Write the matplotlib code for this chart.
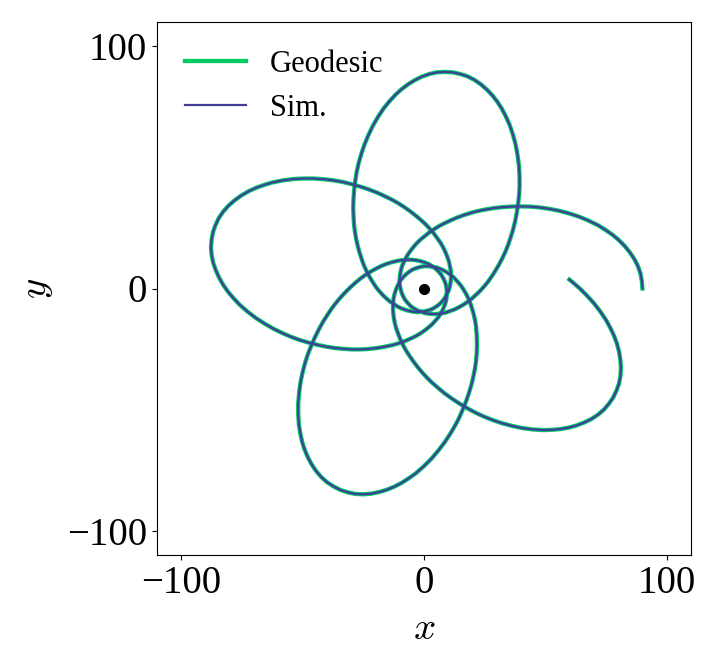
import numpy as np
import matplotlib.pyplot as plt

# orbit in polar form: angle [deg, unwrapped] and radius
phi_deg = [
    0, 2, 4, 6, 8, 10, 12, 14, 16, 18, 20, 22.5, 25, 27.5, 30, 32.5, 35, 37.5, 40, 43, 46, 49, 52, 55, 58,
    61.5, 65, 68.5, 72, 76, 80, 85, 90, 95, 100, 106, 112, 118, 125, 132, 140, 150, 160, 170, 180, 190, 200, 210, 221.25,
    232.5, 242.5, 252.5, 262.5, 272.5, 282.5, 292.5, 302.5, 310.5, 317.5, 324.5, 330.5, 336.5, 342.5, 347.5, 352.5,
    357.5, 362.5, 366.5, 370.5, 374, 377.5, 381, 384.5, 387.5, 390.5, 393.5, 396.5, 399.5, 402.5, 405, 407.5,
    410, 412.5, 415, 417.5, 420, 422.5, 424.5, 426.5, 428.5, 430.5, 432.5, 434.5, 436.5, 438.5, 440.5, 442.5,
    444.5, 446.5, 448.5, 450.5, 452.5, 454.5, 456.5, 458.5, 460.5, 462.5, 465, 467.5, 470, 472.5, 475, 477.5,
    480, 482.5, 485.5, 488.5, 491.5, 494.5, 497.5, 500.5, 504, 507.5, 511, 514.5, 518.5, 522.5, 527.5, 532.5,
    537.5, 542.5, 548.5, 554.5, 560.5, 567.5, 574.5, 582.5, 592.5, 602.5, 612.5, 622.5, 632.5, 642.5, 652.5, 663.75,
    675, 685, 695, 705, 715, 725, 735, 745, 753, 760, 767, 773, 779, 785, 790, 795,
    800, 805, 809, 813, 816.5, 820, 823.5, 827, 830, 833, 836, 839, 842, 845, 847.5, 850,
    852.5, 855, 857.5, 860, 862.5, 865, 867, 869, 871, 873, 875, 877, 879, 881, 883, 885,
    887, 889, 891, 893, 895, 897, 899, 901, 903, 905, 907.5, 910, 912.5, 915, 917.5, 920,
    922.5, 925, 928, 931, 934, 937, 940, 943, 946.5, 950, 953.5, 957, 961, 965, 970, 975,
    980, 985, 991, 997, 1003, 1010, 1017, 1025, 1035, 1045, 1055, 1065, 1075, 1085, 1095, 1106.25,
    1117.5, 1127.5, 1137.5, 1147.5, 1157.5, 1167.5, 1177.5, 1187.5, 1195.5, 1202.5, 1209.5, 1215.5, 1221.5, 1227.5, 1232.5, 1237.5,
    1242.5, 1247.5, 1251.5, 1255.5, 1259, 1262.5, 1266, 1269.5, 1272.5, 1275.5, 1278.5, 1281.5, 1284.5, 1287.5, 1290, 1292.5,
    1295, 1297.5, 1300, 1302.5, 1305, 1307.5, 1309.5, 1311.5, 1313.5, 1315.5, 1317.5, 1319.5, 1321.5, 1323.5, 1325.5, 1327.5,
    1329.5, 1331.5, 1333.5, 1335.5, 1337.5, 1339.5, 1341.5, 1343.5, 1345.5, 1347.5, 1350, 1352.5, 1355, 1357.5, 1360, 1362.5,
    1365, 1367.5, 1370.5, 1373.5, 1376.5, 1379.5, 1382.5, 1385.5, 1389, 1392.5, 1396, 1399.5, 1403.5, 1407.5, 1412.5, 1417.5,
    1422.5, 1427.5, 1433.5, 1439.5, 1445.5, 1452.5, 1459.5, 1467.5, 1477.5, 1487.5, 1497.5, 1507.5, 1517.5, 1527.5, 1537.5, 1548.75,
    1560, 1570, 1580, 1590, 1600, 1610, 1620, 1630, 1638, 1645, 1652, 1658, 1664, 1670, 1675, 1680,
    1685, 1690, 1694, 1698, 1701.5, 1705, 1708.5, 1712, 1715, 1718, 1721, 1724, 1727, 1730, 1732.5, 1735,
    1737.5, 1740, 1742.5, 1745, 1747.5, 1750, 1752, 1754, 1756, 1758, 1760, 1762, 1764, 1766, 1768, 1770,
    1772, 1774, 1776, 1778, 1780, 1782, 1784, 1786, 1788, 1790, 1792.5, 1795, 1797.5, 1800, 1802.5, 1803.5,
]
r = [
    90.0, 89.8, 89.4, 88.6, 87.5, 86.1, 84.5, 82.7, 80.7, 78.5, 76.3, 73.3, 70.3, 67.2, 64.2, 61.2, 58.3, 55.5, 52.7, 49.6, 46.7, 44.0, 41.4, 39.1, 36.9,
    34.5, 32.3, 30.3, 28.5, 26.7, 25.0, 23.1, 21.4, 20.0, 18.7, 17.3, 16.1, 15.1, 14.0, 13.2, 12.3, 11.4, 10.7, 10.2, 9.7, 9.4, 9.2, 9.1, 9.0,
    9.1, 9.2, 9.4, 9.7, 10.2, 10.7, 11.4, 12.3, 13.2, 14.0, 15.1, 16.1, 17.3, 18.7, 20.0, 21.4,
    23.1, 25.0, 26.7, 28.5, 30.3, 32.3, 34.5, 36.9, 39.1, 41.4, 44.0, 46.7, 49.6, 52.7, 55.5, 58.3,
    61.2, 64.2, 67.2, 70.3, 73.3, 76.3, 78.5, 80.7, 82.7, 84.5, 86.1, 87.5, 88.6, 89.4, 89.8, 90.0,
    89.8, 89.4, 88.6, 87.5, 86.1, 84.5, 82.7, 80.7, 78.5, 76.3, 73.3, 70.3, 67.2, 64.2, 61.2, 58.3,
    55.5, 52.7, 49.6, 46.7, 44.0, 41.4, 39.1, 36.9, 34.5, 32.3, 30.3, 28.5, 26.7, 25.0, 23.1, 21.4,
    20.0, 18.7, 17.3, 16.1, 15.1, 14.0, 13.2, 12.3, 11.4, 10.7, 10.2, 9.7, 9.4, 9.2, 9.1, 9.0,
    9.1, 9.2, 9.4, 9.7, 10.2, 10.7, 11.4, 12.3, 13.2, 14.0, 15.1, 16.1, 17.3, 18.7, 20.0, 21.4,
    23.1, 25.0, 26.7, 28.5, 30.3, 32.3, 34.5, 36.9, 39.1, 41.4, 44.0, 46.7, 49.6, 52.7, 55.5, 58.3,
    61.2, 64.2, 67.2, 70.3, 73.3, 76.3, 78.5, 80.7, 82.7, 84.5, 86.1, 87.5, 88.6, 89.4, 89.8, 90.0,
    89.8, 89.4, 88.6, 87.5, 86.1, 84.5, 82.7, 80.7, 78.5, 76.3, 73.3, 70.3, 67.2, 64.2, 61.2, 58.3,
    55.5, 52.7, 49.6, 46.7, 44.0, 41.4, 39.1, 36.9, 34.5, 32.3, 30.3, 28.5, 26.7, 25.0, 23.1, 21.4,
    20.0, 18.7, 17.3, 16.1, 15.1, 14.0, 13.2, 12.3, 11.4, 10.7, 10.2, 9.7, 9.4, 9.2, 9.1, 9.0,
    9.1, 9.2, 9.4, 9.7, 10.2, 10.7, 11.4, 12.3, 13.2, 14.0, 15.1, 16.1, 17.3, 18.7, 20.0, 21.4,
    23.1, 25.0, 26.7, 28.5, 30.3, 32.3, 34.5, 36.9, 39.1, 41.4, 44.0, 46.7, 49.6, 52.7, 55.5, 58.3,
    61.2, 64.2, 67.2, 70.3, 73.3, 76.3, 78.5, 80.7, 82.7, 84.5, 86.1, 87.5, 88.6, 89.4, 89.8, 90.0,
    89.8, 89.4, 88.6, 87.5, 86.1, 84.5, 82.7, 80.7, 78.5, 76.3, 73.3, 70.3, 67.2, 64.2, 61.2, 58.3,
    55.5, 52.7, 49.6, 46.7, 44.0, 41.4, 39.1, 36.9, 34.5, 32.3, 30.3, 28.5, 26.7, 25.0, 23.1, 21.4,
    20.0, 18.7, 17.3, 16.1, 15.1, 14.0, 13.2, 12.3, 11.4, 10.7, 10.2, 9.7, 9.4, 9.2, 9.1, 9.0,
    9.1, 9.2, 9.4, 9.7, 10.2, 10.7, 11.4, 12.3, 13.2, 14.0, 15.1, 16.1, 17.3, 18.7, 20.0, 21.4,
    23.1, 25.0, 26.7, 28.5, 30.3, 32.3, 34.5, 36.9, 39.1, 41.4, 44.0, 46.7, 49.6, 52.7, 55.5, 58.3,
    61.2, 64.2, 67.2, 70.3, 73.3, 76.3, 78.5, 80.7, 82.7, 84.5, 86.1, 87.5, 88.6, 89.4, 89.8, 90.0,
    89.8, 89.4, 88.6, 87.5, 86.1, 84.5, 82.7, 80.7, 78.5, 76.3, 73.3, 70.3, 67.2, 64.2, 61.2, 60.0,
]
ticks = [-100, 0, 100]

plt.rcParams["font.family"] = ["Liberation Serif", "DejaVu Serif"]
plt.rcParams["mathtext.fontset"] = "cm"

phi = np.deg2rad(phi_deg)
x = np.array(r) * np.cos(phi)
y = np.array(r) * np.sin(phi)

fig = plt.figure(figsize=(7.14, 6.67), dpi=100)
ax = fig.add_axes([157 / 714, 1 - 555 / 667, 534 / 714, 533 / 667])

ax.plot(x, y, color="#00cc66", lw=3.1, label="Geodesic")
ax.plot(x, y, color="#40409a", lw=1.6, label="Sim.")
ax.plot([0], [0], "o", color="black", ms=7)

ax.set_xlim(-110, 110)
ax.set_ylim(-110, 110)
ax.set_xticks(ticks)
ax.set_yticks(ticks)
ax.tick_params(labelsize=28)
ax.set_xlabel("$x$", fontsize=28, labelpad=7)
ax.set_ylabel("$y$", fontsize=28, labelpad=9)
ax.legend(loc="upper left", frameon=False, fontsize=22)

fig.savefig("out.png", dpi=100)
